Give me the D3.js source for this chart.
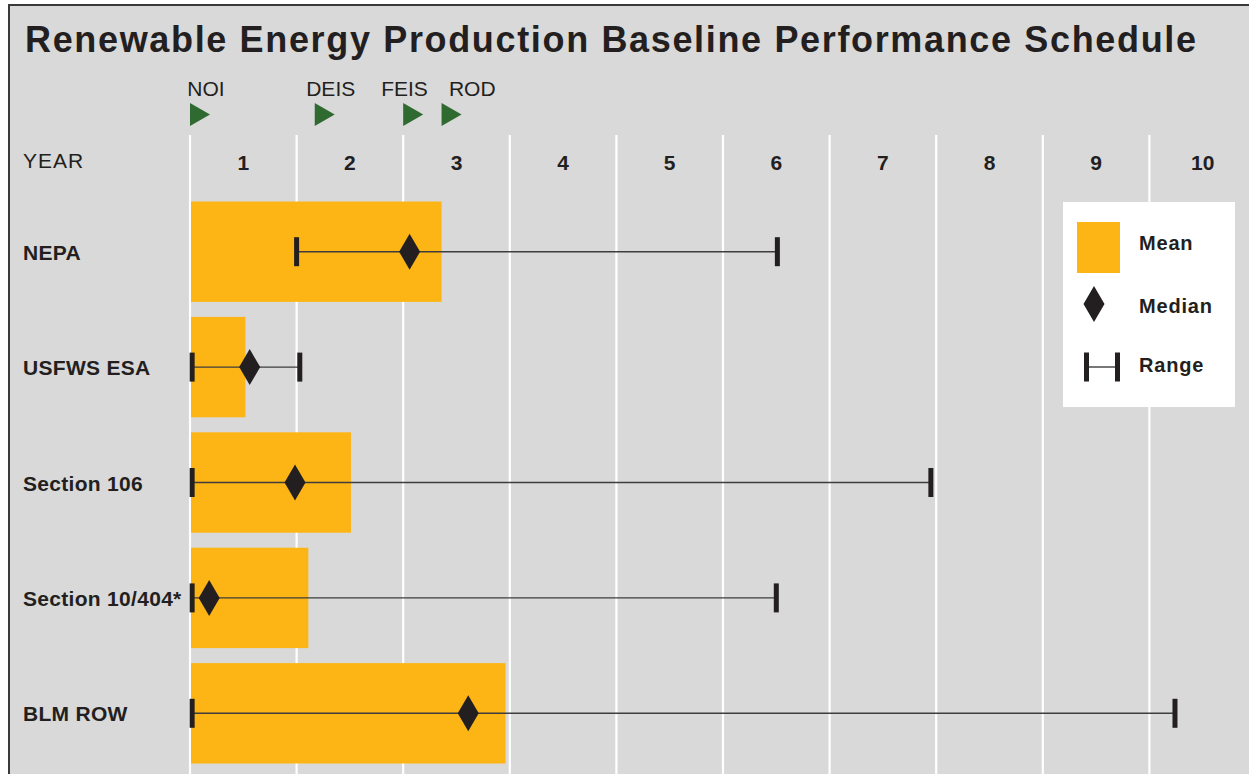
<!DOCTYPE html>
<html>
<head>
<meta charset="utf-8">
<script src="https://cdn.jsdelivr.net/npm/d3@7"></script>
<style>
  html, body { margin: 0; padding: 0; background: #ffffff; }
  svg { display: block; }
  svg text { font-family: "Liberation Sans", Arimo, Arial, Helvetica, sans-serif; }
</style>
</head>
<body>
<svg id="chart" width="1249" height="774"></svg>
<script>
// Permitting processes and their durations, in years
const categories = ["NEPA", "USFWS ESA", "Section 106", "Section 10/404*", "BLM ROW"];
const meanYears = [2.36, 0.52, 1.51, 1.11, 2.96];
const medianYears = [2.06, 0.56, 0.985, 0.18, 2.61];
const rangeMin = [1.0, 0.02, 0.02, 0.02, 0.02];
const rangeMax = [5.51, 1.03, 6.95, 5.50, 9.24];

// Year columns along the top
const yearLabels = ["1", "2", "3", "4", "5", "6", "7", "8", "9", "10"];

// NEPA milestones
const milestones = ["NOI", "DEIS", "FEIS", "ROD"];
const milestoneYears = [0, 1.17, 2.0, 2.36];

const legendItems = ["Mean", "Median", "Range"];

const FONT = "'Liberation Sans', Arimo, Arial, Helvetica, sans-serif";
const COLORS = {
  panel: "#d9d9d9",
  frame: "#3a3a3a",
  grid: "#ffffff",
  bar: "#fdb515",
  mark: "#231f20",
  whisker: "#3d3d3d",
  milestone: "#2f6a31",
  text: "#231f20"
};

const svg = d3.select("#chart").attr("font-family", FONT);
const W = 1249, H = 774;

// Panel with dark frame
svg.append("rect")
  .attr("x", 9).attr("y", 5)
  .attr("width", W + 20).attr("height", H + 20)
  .attr("fill", COLORS.panel)
  .attr("stroke", COLORS.frame)
  .attr("stroke-width", 2);

const x = d3.scaleLinear().domain([0, 10]).range([190, 1256]);
const y = d3.scaleBand()
  .domain(categories)
  .range([194, 771])
  .paddingInner(0.13)
  .paddingOuter(0.065);

// Title, tracked out to span the panel header
const title = svg.append("text")
  .attr("x", 25).attr("y", 52)
  .attr("font-size", 36).attr("font-weight", "bold")
  .attr("font-family", FONT)
  .attr("fill", COLORS.text)
  .text("Renewable Energy Production Baseline Performance Schedule");
const titleText = title.text();
const titleWidth = 1171;
const tw = title.node().getComputedTextLength();
if (tw > 0 && tw < titleWidth) {
  title.attr("letter-spacing", (titleWidth - tw) / (titleText.length - 1));
}

// Vertical year dividers
const gridTop = 135;
svg.append("g")
  .selectAll("line")
  .data(d3.range(0, 11))
  .join("line")
  .attr("x1", d => x(d)).attr("x2", d => x(d))
  .attr("y1", gridTop).attr("y2", H)
  .attr("stroke", COLORS.grid)
  .attr("stroke-width", 2.2);

// Year header
svg.append("text")
  .attr("x", 23).attr("y", 168)
  .attr("font-size", 21)
  .attr("font-family", FONT)
  .attr("fill", COLORS.text)
  .attr("letter-spacing", 1)
  .text("YEAR");

svg.append("g")
  .selectAll("text")
  .data(yearLabels)
  .join("text")
  .attr("x", (d, i) => x(i + 0.5))
  .attr("y", 170)
  .attr("text-anchor", "middle")
  .attr("font-size", 21)
  .attr("font-weight", "bold")
  .attr("font-family", FONT)
  .attr("fill", COLORS.text)
  .text(d => d);

// Milestone markers
const triW = 20, triH = 23, triTop = 103;
const mg = svg.append("g");
mg.selectAll("path")
  .data(milestoneYears)
  .join("path")
  .attr("d", d => {
    const x0 = x(d);
    return `M${x0},${triTop}L${x0 + triW},${triTop + triH / 2}L${x0},${triTop + triH}Z`;
  })
  .attr("fill", COLORS.milestone);

// Milestone labels: centred over their marker, then spread apart so neighbours don't collide
const mLabels = mg.selectAll("text.ms")
  .data(milestones)
  .join("text")
  .attr("class", "ms")
  .attr("y", 96)
  .attr("text-anchor", "middle")
  .attr("font-size", 21)
  .attr("font-family", FONT)
  .attr("fill", COLORS.text)
  .text(d => d);

const widths = mLabels.nodes().map(n => n.getComputedTextLength());
const centers = milestoneYears.map(v => x(v) + triW / 2 + 6);
const minGap = 21;
for (let iter = 0; iter < 50; iter++) {
  for (let i = 0; i < centers.length - 1; i++) {
    const need = widths[i] / 2 + widths[i + 1] / 2 + minGap;
    const have = centers[i + 1] - centers[i];
    if (have < need) {
      const push = (need - have) / 2;
      centers[i] -= push;
      centers[i + 1] += push;
    }
  }
}
mLabels.attr("x", (d, i) => centers[i]);

// Rows
const rows = categories.map((c, i) => ({
  name: c,
  mean: meanYears[i],
  median: medianYears[i],
  lo: rangeMin[i],
  hi: rangeMax[i]
}));

const rowG = svg.append("g")
  .selectAll("g")
  .data(rows)
  .join("g");

// Mean bars
rowG.append("rect")
  .attr("x", x(0) + 1)
  .attr("y", d => y(d.name))
  .attr("width", d => x(d.mean) - x(0) - 1)
  .attr("height", y.bandwidth())
  .attr("fill", COLORS.bar);

const cy = d => y(d.name) + y.bandwidth() / 2;

// Range whiskers
rowG.append("line")
  .attr("x1", d => x(d.lo)).attr("x2", d => x(d.hi))
  .attr("y1", cy).attr("y2", cy)
  .attr("stroke", COLORS.whisker)
  .attr("stroke-width", 1.4);

const capW = 5, capH = 29;
["lo", "hi"].forEach(k => {
  rowG.append("rect")
    .attr("x", d => x(d[k]) - capW / 2)
    .attr("y", d => cy(d) - capH / 2)
    .attr("width", capW).attr("height", capH)
    .attr("fill", COLORS.mark);
});

// Median diamonds
const dW = 21, dH = 36;
const diamond = (cx, cyv) =>
  `M${cx},${cyv - dH / 2}L${cx + dW / 2},${cyv}L${cx},${cyv + dH / 2}L${cx - dW / 2},${cyv}Z`;
rowG.append("path")
  .attr("d", d => diamond(x(d.median), cy(d)))
  .attr("fill", COLORS.mark);

// Category labels
rowG.append("text")
  .attr("x", 23)
  .attr("y", d => cy(d) + 8)
  .attr("font-size", 21)
  .attr("font-weight", "bold")
  .attr("font-family", FONT)
  .attr("letter-spacing", 0.3)
  .attr("fill", COLORS.text)
  .text(d => d.name);

// Legend
const lg = svg.append("g").attr("transform", "translate(1063,202)");
lg.append("rect")
  .attr("width", 172).attr("height", 205)
  .attr("fill", "#ffffff");

const legY = [48, 111, 170];
lg.selectAll("text")
  .data(legendItems)
  .join("text")
  .attr("x", 76)
  .attr("y", (d, i) => legY[i])
  .attr("font-size", 20)
  .attr("font-weight", "bold")
  .attr("font-family", FONT)
  .attr("letter-spacing", 0.8)
  .attr("fill", COLORS.text)
  .text(d => d);

// Mean swatch
lg.append("rect")
  .attr("x", 14).attr("y", 20)
  .attr("width", 43).attr("height", 51)
  .attr("fill", COLORS.bar);

// Median swatch
lg.append("path")
  .attr("d", diamond(31, 102))
  .attr("fill", COLORS.mark);

// Range swatch
lg.append("line")
  .attr("x1", 23.5).attr("x2", 54.5)
  .attr("y1", 165).attr("y2", 165)
  .attr("stroke", COLORS.whisker)
  .attr("stroke-width", 1.4);
[23.5, 54.5].forEach(cx => {
  lg.append("rect")
    .attr("x", cx - capW / 2).attr("y", 165 - capH / 2)
    .attr("width", capW).attr("height", capH)
    .attr("fill", COLORS.mark);
});
</script>
</body>
</html>
